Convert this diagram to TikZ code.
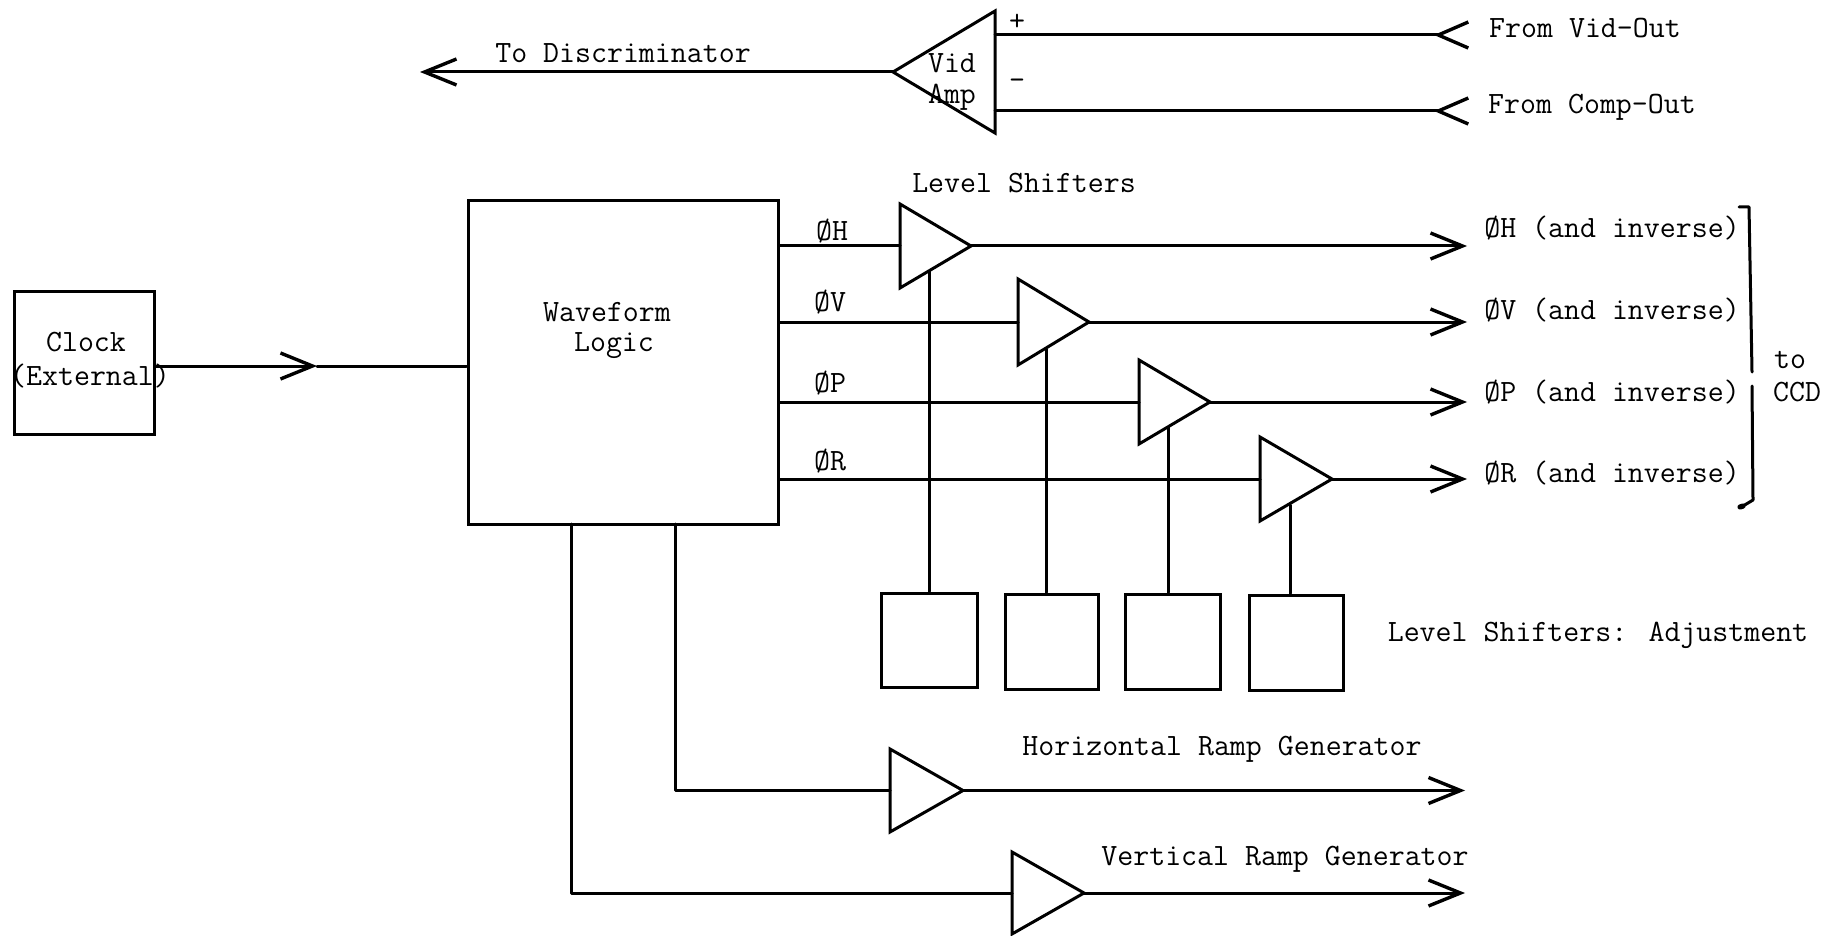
\documentclass[tikz,border=0pt]{standalone}
\usepackage{fontspec}
\usetikzlibrary{arrows.meta}
\tikzset{
  wire/.style={line width=1.5pt,line cap=round,line join=round},
  tri/.style={line width=1.5pt,line join=miter},
  sq/.style={draw,line width=1.5pt,inner sep=0pt,rectangle},
  headr/.style={-{Straight Barb[length=16pt,width=13pt,line width=1.7pt]}},
  headl/.style={-{Straight Barb[reversed,length=15pt,width=13pt,line width=1.7pt]}},
  lab/.style={font=\ttfamily\fontsize{15.5}{18}\selectfont,inner sep=0pt,align=center},
}
\newcommand{\ampl}[5]{% name, base x, top y, bottom y, apex x
  \pgfmathsetmacro{\midy}{(#3+#4)/2}
  \coordinate (#1in) at (#2,\midy);
  \coordinate (#1out) at (#5,\midy);
  \draw[tri] (#2,#3) -- (#5,\midy) -- (#2,#4) -- cycle;
}
\begin{document}
\begin{tikzpicture}[x=0.5pt,y=-0.5pt]
\useasboundingbox (0,0) rectangle (1830,936);

% boxes
\node[sq,minimum width=70pt,minimum height=71.5pt] (clock) at (84,362.5) {};
\node[sq,minimum width=155pt,minimum height=161.5pt] (logic) at (623,362.5) {};
\node[sq,minimum width=48pt,minimum height=47pt] (adjA) at (929,640) {};
\node[sq,minimum width=46.5pt,minimum height=47.5pt] (adjB) at (1051.5,641.5) {};
\node[sq,minimum width=47.5pt,minimum height=47.5pt] (adjC) at (1172.5,641.5) {};
\node[sq,minimum width=47pt,minimum height=47.5pt] (adjD) at (1296,642.5) {};

% triangles
\ampl{sA}{900}{204}{288}{971}
\ampl{sB}{1018}{279}{365}{1089}
\ampl{sC}{1139}{360}{444}{1210}
\ampl{sD}{1260}{437}{521}{1332}
\ampl{rH}{890}{749}{832}{963}
\ampl{rV}{1012}{852}{934}{1084}
\ampl{vid}{995}{11}{133}{893}

% level shifter feet
\coordinate (fA) at (929,271);
\coordinate (fB) at (1046,349);
\coordinate (fC) at (1168,427);
\coordinate (fD) at (1290,505);
\draw[wire] (fA) -- (fA |- adjA.north);
\draw[wire] (fB) -- (fB |- adjB.north);
\draw[wire] (fC) -- (fC |- adjC.north);
\draw[wire] (fD) -- (fD |- adjD.north);

% free ends
\coordinate (eH) at (1467,246);
\coordinate (eV) at (1467,322);
\coordinate (eP) at (1467,402);
\coordinate (eR) at (1467,479);
\coordinate (eRH) at (1465,790.5);
\coordinate (eRV) at (1465,893);
\coordinate (eDisc) at (420,72);
\coordinate (eVidP) at (1470,35);
\coordinate (eVidM) at (1470,111);
\coordinate (clkTip) at (317,366);
\coordinate (vidP) at (995,35);
\coordinate (vidM) at (995,111);
\coordinate (dropH) at (675,524);
\coordinate (dropV) at (571,524);

% signal lines
\draw[wire] (logic.east |- sAin) -- (sAin);
\draw[wire] (logic.east |- sBin) -- (sBin);
\draw[wire] (logic.east |- sCin) -- (sCin);
\draw[wire] (logic.east |- sDin) -- (sDin);
\draw[wire,headr] (sAout) -- (eH);
\draw[wire,headr] (sBout) -- (eV);
\draw[wire,headr] (sCout) -- (eP);
\draw[wire,headr] (sDout) -- (eR);
\draw[wire,headr] (rHout) -- (eRH);
\draw[wire,headr] (rVout) -- (eRV);
\draw[wire] (dropH) |- (rHin);
\draw[wire] (dropV) |- (rVin);
\draw[wire,headr] (clock.east |- clkTip) -- (clkTip);
\draw[wire] (clkTip) -- (logic.west |- clkTip);
\draw[wire,headr] (vidout) -- (eDisc);
\draw[wire,headl] (vidP) -- (eVidP);
\draw[wire,headl] (vidM) -- (eVidM);

% bracket
\coordinate (brA) at (1739,207);
\coordinate (brB) at (1749,207);
\coordinate (brC) at (1752,372);
\coordinate (brD) at (1752,386);
\coordinate (brE) at (1753,500);
\coordinate (brF) at (1743,506);
\coordinate (brG) at (1740,507);
\draw[wire] (brA) -- (brB) -- (brC);
\draw[wire] (brD) -- (brE) -- (brF);
\draw[line width=2.6pt,line cap=round] (brF) -- (brG);

% labels
\node[lab] (tDisc) at (623,53) {To Discriminator};
\node[lab] (tVid) at (952,63) {Vid};
\node[lab] (tAmp) at (952,97) {Amp};
\node[lab] (tPlus) at (1017,22) {+};
\node[lab] (tMinus) at (1017,84) {-};
\node[lab] (tFV) at (1585,28) {From Vid-Out};
\node[lab] (tFC) at (1592,107) {From Comp-Out};
\node[lab] (tLS) at (1024,183) {Level Shifters};
\node[lab] (tClk) at (86,342) {Clock};
\node[lab] (tExt) at (90,376) {(External)};
\node[lab] (tWave) at (607,312) {Waveform};
\node[lab] (tLogic) at (614,346) {Logic};
\node[lab] (pH) at (832,231) {ØH};
\node[lab] (pV) at (830,302) {ØV};
\node[lab] (pP) at (830,383) {ØP};
\node[lab] (pR) at (830,461) {ØR};
\node[lab] (oH) at (1612,228) {ØH (and inverse)};
\node[lab] (oV) at (1612,310) {ØV (and inverse)};
\node[lab] (oP) at (1612,392) {ØP (and inverse)};
\node[lab] (oR) at (1612,473) {ØR (and inverse)};
\node[lab] (tTo) at (1790,360) {to};
\node[lab] (tCCD) at (1797,392) {CCD};
\node[lab] (tAdj) at (1598,635) {Level Shifters: Adjustment};
\node[lab] (tHR) at (1222,749) {Horizontal Ramp Generator};
\node[lab] (tVR) at (1285,859) {Vertical Ramp Generator};
\end{tikzpicture}
\end{document}
